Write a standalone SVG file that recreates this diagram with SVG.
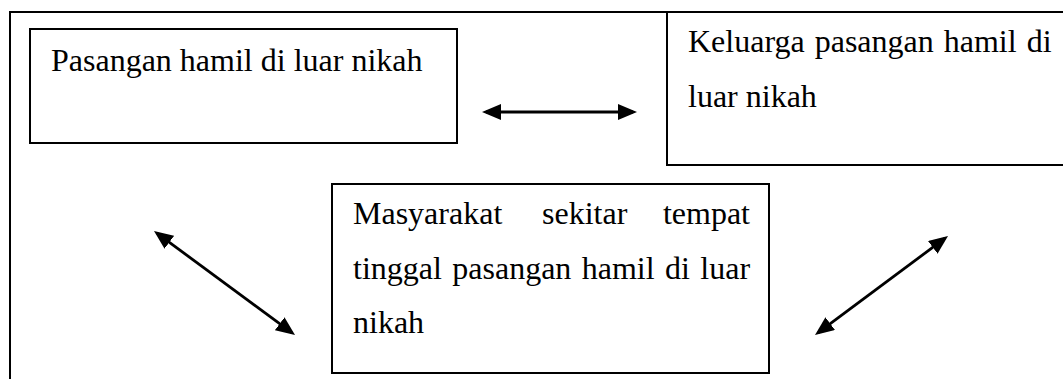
<svg xmlns="http://www.w3.org/2000/svg" width="1063" height="379" viewBox="0 0 1063 379">
<style>
.box{fill:#fff;stroke:#000;stroke-width:2}
.frame{fill:none;stroke:#000;stroke-width:2}
.t{font-family:"Liberation Serif","Times New Roman",serif;font-size:32px;fill:#000}
.c{stroke:#000;stroke-width:2.8;fill:none;marker-start:url(#ah);marker-end:url(#ah)}
</style>
<defs>
<marker id="ah" viewBox="0 0 19 16" refX="15" refY="8" markerWidth="19" markerHeight="16" markerUnits="userSpaceOnUse" orient="auto-start-reverse">
<path d="M0,0 L19,8 L0,16 z" fill="#000"/>
</marker>
</defs>
<rect width="1063" height="379" fill="#fff"/>
<g id="frame">
<path class="frame" d="M10,379 L10,12 L1063,12"/>
</g>
<g id="node-pasangan">
<rect class="box" x="30" y="29" width="427" height="114"/>
<text class="t" x="51" y="71">Pasangan hamil di luar nikah</text>
</g>
<g id="node-keluarga">
<rect class="box" x="667" y="12" width="410" height="153"/>
<text class="t" x="688" y="52" word-spacing="2">Keluarga pasangan hamil di</text>
<text class="t" x="688" y="107">luar nikah</text>
</g>
<g id="node-masyarakat">
<rect class="box" x="332" y="184" width="437" height="189"/>
<text class="t" x="353" y="224">Masyarakat</text>
<text class="t" x="542" y="224">sekitar</text>
<text class="t" x="750" y="224" text-anchor="end">tempat</text>
<text class="t" x="353" y="279" word-spacing="2.4">tinggal pasangan hamil di luar</text>
<text class="t" x="353" y="333">nikah</text>
</g>
<g id="connectors">
<line class="c" x1="486" y1="112" x2="633" y2="112"/>
<line class="c" x1="157.2" y1="233.4" x2="291.8" y2="332.6"/>
<line class="c" x1="818.2" y1="332.6" x2="944.8" y2="238.4"/>
</g>
</svg>
